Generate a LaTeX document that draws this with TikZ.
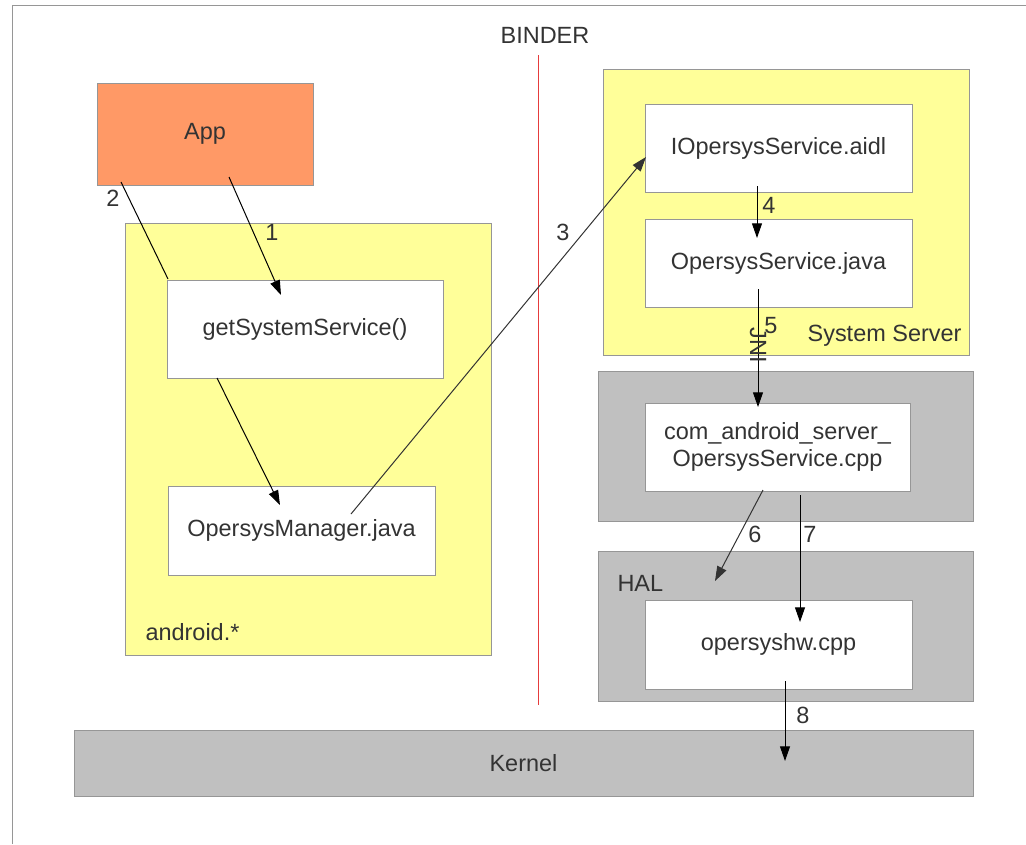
\documentclass[tikz,border=0pt]{standalone}
\usepackage{fontspec}
\setmainfont{Liberation Sans}
\usetikzlibrary{arrows.meta}

\definecolor{appcolor}{RGB}{255,153,102}
\definecolor{pkgyellow}{RGB}{255,255,153}
\definecolor{layergray}{RGB}{192,192,192}
\definecolor{edgegray}{RGB}{150,150,150}
\definecolor{txtgray}{RGB}{51,51,51}
\definecolor{binderred}{RGB}{230,60,60}

\tikzset{every picture/.style={line width=0.75pt}}

\begin{document}
\begin{tikzpicture}[x=0.75pt,y=0.75pt,yscale=-1,xscale=1,
  font=\fontsize{17.6}{19.5}\selectfont, text=txtgray,
  part/.style={draw=edgegray, line width=0.75pt, inner sep=0pt},
  pkgbox/.style={part, fill=pkgyellow},
  layerbox/.style={part, fill=layergray},
  filebox/.style={part, fill=white, align=center, minimum width=200.25pt, minimum height=66pt},
  call/.style={-{Triangle[length=11pt,width=7.5pt]}, draw=black, line width=0.75pt},
  lbl/.style={inner sep=0.75pt}]
\useasboundingbox (0,0) rectangle (1026,844);

%Frame
\draw [color=edgegray] (12,844) -- (12,5) -- (1026,5) ;

%Binder line
\draw [color=binderred, line width=0.6pt] (538,55) -- (538,705) ;

%Shape: Rectangle (containers)
\node [pkgbox, minimum width=274.5pt, minimum height=324pt] (android) at (308,439) {};
\node [pkgbox, minimum width=274.5pt, minimum height=214.5pt] (sysserver) at (786,212) {};
\node [layerbox, minimum width=281.25pt, minimum height=112.5pt] (jni) at (785.5,446) {};
\node [layerbox, minimum width=281.25pt, minimum height=112.5pt] (hal) at (785.5,626) {};
\node [layerbox, minimum width=674.25pt, minimum height=49.5pt] (kernel) at (523.5,763) {Kernel};
\node [part, fill=appcolor, minimum width=162pt, minimum height=76.5pt] (app) at (205,134) {App};

%Shape: Rectangle (files)
\node [filebox, minimum width=207pt, minimum height=73.5pt] (getsvc) at (305,329) {getSystemService()};
\node [filebox, minimum height=66.75pt] (manager) at (301.5,530.5) {OpersysManager.java};
\node [filebox] (aidl) at (778.5,148) {IOpersysService.aidl};
\node [filebox] (service) at (778.5,263) {OpersysService.java};
\node [filebox, minimum width=198.75pt] (jnicpp) at (777.5,447) {com\_android\_server\_\\[1pt]OpersysService.cpp};
\node [filebox, minimum height=66.75pt] (hw) at (778.5,644.5) {opersyshw.cpp};

%Connector end points
\coordinate (c1a) at (229,177) ;
\coordinate (c1b) at (281,295) ;
\coordinate (c2a) at (121,182) ;
\coordinate (c2b) at (168,279) ;
\coordinate (cma) at (217,378) ;
\coordinate (cmb) at (280,505) ;
\coordinate (c3a) at (351,514) ;
\coordinate (c3b) at (646,157) ;
\coordinate (c4a) at (757,186) ;
\coordinate (c4b) at (757,238) ;
\coordinate (c5a) at (758,289) ;
\coordinate (c5b) at (758,407) ;
\coordinate (c6a) at (763,490) ;
\coordinate (c6b) at (715,581) ;
\coordinate (c7a) at (800,495) ;
\coordinate (c7b) at (800,622) ;
\coordinate (c8a) at (785,681) ;
\coordinate (c8b) at (785,761) ;

%Straight Lines
\draw [call] (c1a) -- (c1b) ;
\draw [draw=black] (c2a) -- (c2b) ;
\draw [call] (cma) -- (cmb) ;
\draw [call, draw=black!80] (c3a) -- (c3b) ;
\draw [call] (c4a) -- (c4b) ;
\draw [call] (c5a) -- (c5b) ;
\draw [call, draw=black!80] (c6a) -- (c6b) ;
\draw [call] (c7a) -- (c7b) ;
\draw [call] (c8a) -- (c8b) ;

% Text Node
\node [lbl] (binder) at (545,35) {BINDER};
% Text Node
\node [lbl, anchor=west] (androidlbl) at (144,632) {android.*};
% Text Node
\node [lbl, anchor=east] (sysserverlbl) at (963,336) {System Server};
% Text Node
\node [lbl, anchor=west] (hallbl) at (616,583) {HAL};
% Text Node
\node [lbl, rotate=-90] (jnilbl) at (758,345) {JNI};
% Text Node
\node [lbl] (n1) at (272,232) {1};
\node [lbl] (n2) at (113,198) {2};
\node [lbl] (n3) at (563,232) {3};
\node [lbl] (n4) at (769,205) {4};
\node [lbl] (n5) at (771,326) {5};
\node [lbl] (n6) at (755,534) {6};
\node [lbl] (n7) at (810,534) {7};
\node [lbl] (n8) at (803,715) {8};

\end{tikzpicture}
\end{document}
